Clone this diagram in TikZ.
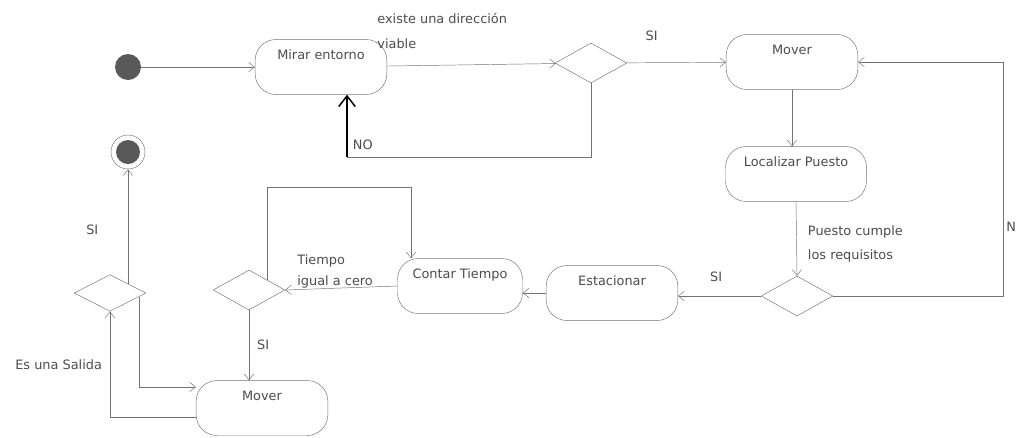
\documentclass[tikz,border=0pt]{standalone}
\usepackage{fontspec}
\setmainfont{DejaVu Sans}
\usepackage{xcolor}
\usetikzlibrary{
	arrows.meta,
	calc,
	shapes.geometric
}

\definecolor{flowgray}{gray}{0.45}
\definecolor{txtgray}{gray}{0.3}
\definecolor{dotgray}{gray}{0.35}

\begin{document}
\begin{tikzpicture}[x=0.03cm, y=-0.03cm, font=\fontsize{11}{13}\selectfont, text=txtgray,
		act/.style={draw=flowgray, rounded corners=0.62cm, minimum width=3.95cm, inner xsep=4pt, inner ysep=0.32cm, text height=1.5ex, text depth=0.72cm},
		choice/.style={draw=flowgray, diamond, aspect=1.8, minimum width=2.15cm, minimum height=1.2cm, inner sep=0pt},
		flow/.style={draw=flowgray, -{Straight Barb[length=5pt, width=8pt]}},
		guard/.style={inner sep=1pt}]
		\useasboundingbox (0,0) rectangle (1021,437);

		\node[circle, fill=dotgray, minimum size=0.78cm, inner sep=0pt] (start) at (128,67) {};
		\node[act] (mirar) at (321,67) {Mirar entorno};
		\node[choice] (d1) at (591,63) {};
		\node[act] (mover) at (792,62) {Mover};
		\node[act, minimum width=4.23cm] (localizar) at (796,174) {Localizar Puesto};
		\node[choice] (d2) at (797,296) {};
		\node[act] (estacionar) at (612,293) {Estacionar};
		\node[act, minimum width=3.75cm] (contar) at (460,286) {Contar Tiempo};
		\node[choice] (d3) at (249,290) {};
		\node[act] (mover2) at (262,408) {Mover};
		\node[choice, minimum height=1.1cm] (d4) at (110,293) {};
		\node[circle, draw=flowgray, minimum size=1.02cm, inner sep=0pt] (end) at (128,152) {};
		\node[circle, fill=dotgray, minimum size=0.72cm, inner sep=0pt] (endDot) at (end) {};

		\coordinate (noTurn) at (347,157);
		\coordinate (rightCol) at (1003,180);
		\coordinate (loopTop) at (411,187);

		\draw[flow] (start) -- (mirar);
		\draw[flow] (mirar) -- (d1);
		\node[guard, anchor=west, align=left] (lblDir) at (376,31) {existe una dirección\\[8pt]viable};
		\draw[flow] (d1) -- (mover) node[guard, pos=0.25, above=0.62cm] {SI};
		\draw[draw=flowgray] (d1.south) |- (noTurn);
		\draw[draw=black, line width=1.3pt, -{Straight Barb[length=9pt, width=14pt]}] (noTurn) -- (noTurn |- mirar.south)
			node[guard, pos=0.2, right=0.12cm, text=txtgray] {NO};

		\draw[flow] (mover.south) -- (mover.south |- localizar.north);
		\draw[flow] (localizar.south) -- (d2.north)
			node[guard, pos=0.57, right=0.3cm, align=left] {Puesto cumple\\[7.5pt]los requisitos};
		\draw[flow] (d2.west) -- (d2.west -| estacionar.east) node[guard, pos=0.54, above=0.4cm] {SI};
		\draw[flow] (d2.east) -| (rightCol) |- (mover.east);
		\node[guard, anchor=west] (lblNo) at (1005,227) {N};

		\draw[flow] (estacionar.west) -- (estacionar.west -| contar.east);
		\draw[flow] (contar.west) -- (d3.east);
		\node[guard, anchor=west, align=left] (lblTiempo) at (296,271) {Tiempo\\[5pt]igual a cero};
		\draw[flow] (d3.north east) |- (loopTop) -- (loopTop |- contar.north);
		\draw[flow] (d3.south) -- (d3.south |- mover2.north) node[guard, pos=0.5, right=0.2cm] {SI};

		\draw[flow] ([yshift=-0.27cm]mover2.west) -| (d4.south) node[guard, pos=0.75, left=0.2cm] {Es una Salida};
		\draw[flow] ($(d4.east)!0.2!(d4.south)$) |- ([yshift=-0.2cm]mover2.north west);
		\draw[flow] (d4.north east) -- (d4.north east |- end.south) node[guard, pos=0.47, left=0.85cm] {SI};
	\end{tikzpicture}
\end{document}
